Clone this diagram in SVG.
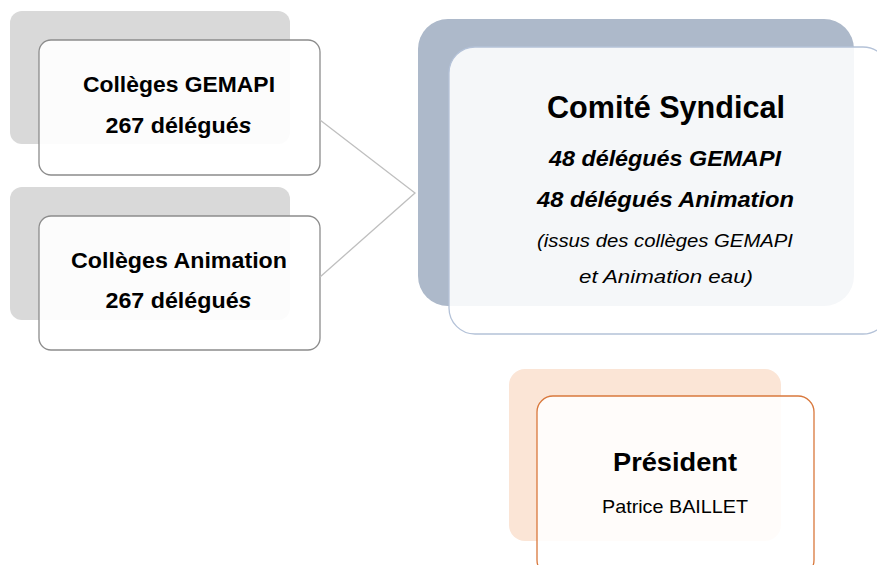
<svg xmlns="http://www.w3.org/2000/svg" width="877" height="565" viewBox="0 0 877 565">
<style>
text{font-family:"Liberation Sans",Arial,sans-serif;fill:#000;text-anchor:middle}
.b{font-weight:bold}
.grayback{fill:#d9d9d9}
.grayfront{fill:#fff;fill-opacity:0.9;stroke:#8c8c8c;stroke-width:1.3}
.conn{fill:none;stroke:#bfbfbf;stroke-width:1.3}
</style>
<rect width="877" height="565" fill="#fff"/>
<g id="college-gemapi">
<rect class="grayback" x="10" y="11" width="280" height="133" rx="12"/>
<rect class="grayfront" x="39" y="40" width="281" height="135" rx="12"/>
<text class="b" x="179" y="92" font-size="22.5" textLength="192" lengthAdjust="spacingAndGlyphs">Collèges GEMAPI</text>
<text class="b" x="178.5" y="133" font-size="22.5" textLength="146" lengthAdjust="spacingAndGlyphs">267 délégué<tspan font-style="italic">s</tspan></text>
</g>
<g id="college-animation">
<rect class="grayback" x="10" y="187" width="280" height="133" rx="12"/>
<rect class="grayfront" x="39" y="216" width="281" height="134" rx="12"/>
<text class="b" x="179" y="268" font-size="22.5" textLength="216" lengthAdjust="spacingAndGlyphs">Collèges Animation</text>
<text class="b" x="178.5" y="308" font-size="22.5" textLength="146" lengthAdjust="spacingAndGlyphs">267 délégué<tspan font-style="italic">s</tspan></text>
</g>
<g id="connectors">
<polyline class="conn" points="320,120 415,193 320,277"/>
</g>
<g id="comite-syndical">
<rect x="418" y="19" width="436" height="287" rx="30" fill="#adb9ca"/>
<rect x="449" y="47" width="440" height="287" rx="26" fill="#fff" fill-opacity="0.88" stroke="#b4c2d8" stroke-width="1.3"/>
<text class="b" x="666" y="118" font-size="31" textLength="238" lengthAdjust="spacingAndGlyphs">Comité Syndical</text>
<text class="b" x="665" y="166" font-size="22.5" font-style="italic" textLength="232" lengthAdjust="spacingAndGlyphs">48 délégués GEMAPI</text>
<text class="b" x="665.5" y="207" font-size="22.5" font-style="italic" textLength="257" lengthAdjust="spacingAndGlyphs">48 délégués Animation</text>
<text x="665" y="247" font-size="19" font-style="italic" textLength="256" lengthAdjust="spacingAndGlyphs">(issus des collèges GEMAPI</text>
<text x="666" y="283" font-size="19" font-style="italic" textLength="174" lengthAdjust="spacingAndGlyphs">et Animation eau)</text>
</g>
<g id="president">
<rect x="509" y="369" width="272" height="172" rx="16" fill="#fbe5d6"/>
<rect x="537" y="396" width="277" height="180" rx="16" fill="#fff" fill-opacity="0.88" stroke="#d9783c" stroke-width="1.3"/>
<text class="b" x="675" y="471" font-size="26" textLength="124" lengthAdjust="spacingAndGlyphs">Président</text>
<text x="675" y="513" font-size="19" textLength="146" lengthAdjust="spacingAndGlyphs">Patrice BAILLET</text>
</g>
</svg>
